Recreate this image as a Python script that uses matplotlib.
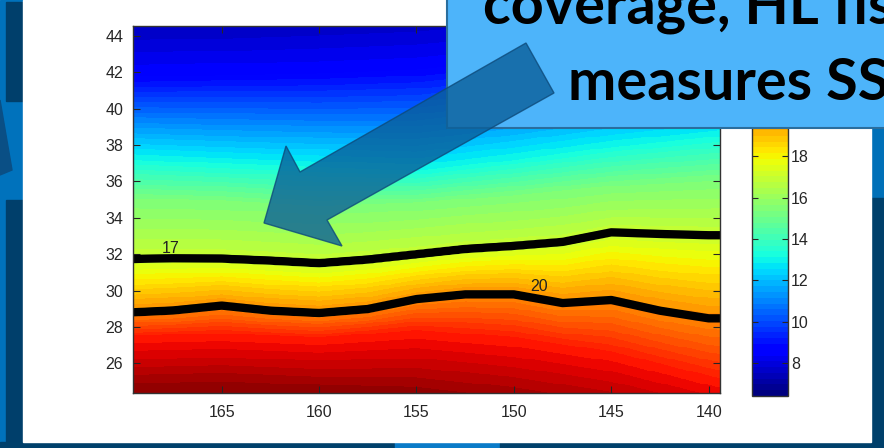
import numpy as np
import matplotlib
matplotlib.use('Agg')
import matplotlib.pyplot as plt
from matplotlib.patches import Rectangle, Polygon
from matplotlib.colors import Normalize

plt.rcParams['font.family'] = ['Liberation Sans', 'DejaVu Sans']

# 等温线位置：17 和 20 度两条黑线
lon_nodes = [169.5, 167.5, 165, 162.5, 160, 157.5, 155, 152.5, 150, 147.5, 145, 142.5, 140, 139.4]
lat_17 = [31.73, 31.77, 31.75, 31.64, 31.50, 31.70, 31.99, 32.28, 32.45, 32.67, 33.20, 33.11, 33.04, 33.04]
lat_20 = [28.80, 28.90, 29.17, 28.89, 28.76, 28.98, 29.53, 29.79, 29.79, 29.31, 29.48, 28.89, 28.47, 28.47]

# 其它颜色带的大致位置（粗网格）
lon_coarse = [169.5, 165, 160, 155, 150, 145, 139.4]
lat_7p5 = [44.5, 44.6, 44.8, 45.0, 45.4, 45.9, 46.3]
lat_8p6 = [41.8, 41.9, 42.0, 42.2, 42.7, 43.2, 43.6]
lat_11 = [39.4, 39.3, 39.2, 39.2, 39.8, 40.5, 41.0]
lat_13 = [37.2, 37.0, 36.8, 36.6, 37.2, 37.9, 38.5]
lat_15 = [35.0, 34.9, 34.6, 34.8, 35.2, 35.7, 36.0]
lat_22 = [27.5, 27.6, 27.4, 27.8, 27.4, 26.6, 25.1]
lat_24 = [24.5, 24.6, 24.4, 24.2, 23.6, 22.8, 21.5]

sst_levels = [7.5, 8.6, 11.0, 13.1, 15.4, 17.0, 20.0, 22.1, 24.0]
contour_levels = [17, 20]
xticks = [165, 160, 155, 150, 145, 140]
yticks = [26, 28, 30, 32, 34, 36, 38, 40, 42, 44]
# 20 以上的色标刻度被标注框挡住了
cbar_ticks = [8, 10, 12, 14, 16, 18]

callout_line1 = 'coverage, HL fishery'
callout_line2 = 'measures SST'

# 构造网格场：每一列按等温线纬度插值
lon_grid = np.linspace(139.4, 169.6, 400)
lat_grid = np.linspace(24.3, 44.6, 400)

def at_lon(lons, lats):
    return np.interp(lon_grid, lons[::-1], lats[::-1])

iso_lat = [
    at_lon(lon_coarse, lat_7p5),
    at_lon(lon_coarse, lat_8p6),
    at_lon(lon_coarse, lat_11),
    at_lon(lon_coarse, lat_13),
    at_lon(lon_coarse, lat_15),
    at_lon(lon_nodes, lat_17),
    at_lon(lon_nodes, lat_20),
    at_lon(lon_coarse, lat_22),
    at_lon(lon_coarse, lat_24),
]
iso_lat = np.array(iso_lat)
sst = np.zeros((len(lat_grid), len(lon_grid)))
for j in range(len(lon_grid)):
    sst[:, j] = np.interp(lat_grid, iso_lat[::-1, j], sst_levels[::-1])

W, H = 884, 448
fig = plt.figure(figsize=(W / 100, H / 100), dpi=100)

def px_axes(x0, y0, x1, y1, **kw):
    return fig.add_axes([x0 / W, 1 - y1 / H, (x1 - x0) / W, (y1 - y0) / H], **kw)

# 幻灯片背景
bg = px_axes(0, 0, W, H, zorder=0)
bg.set_xlim(0, W)
bg.set_ylim(H, 0)
bg.axis('off')
bg.add_patch(Rectangle((0, 0), W, H, color='#0072bc'))
bg.add_patch(Rectangle((6, 2), 17, 99, color='#003f6b'))
bg.add_patch(Rectangle((6, 200), 17, 248, color='#003f6b'))
bg.add_patch(Polygon([(0, 100), (12, 170), (0, 175)], color='#0a4f85'))
bg.add_patch(Rectangle((871, 0), 13, 198, color='#0070b8'))
bg.add_patch(Rectangle((871, 198), 13, 250, color='#00406b'))
bg.add_patch(Rectangle((0, 442), 395, 6, color='#00406b'))
bg.add_patch(Rectangle((395, 442), 105, 6, color='#0a7bc8'))
bg.add_patch(Rectangle((500, 442), 384, 6, color='#00406b'))
bg.add_patch(Rectangle((23, 0), 848, 442, color='white'))

# 主图
cmap = plt.get_cmap('jet', 64)
norm = Normalize(vmin=6.4, vmax=24.3)
ax = px_axes(133, 26, 720, 392.7, zorder=1)
mesh = ax.pcolormesh(lon_grid, lat_grid, sst, cmap=cmap, norm=norm, shading='nearest')
ax.contour(lon_grid, lat_grid, sst, levels=contour_levels, colors='k', linewidths=6)
ax.text(167.6, 31.9, '17', fontsize=11.5, color='#222222', ha='center', va='bottom')
ax.text(148.7, 29.8, '20', fontsize=11.5, color='#222222', ha='center', va='bottom')
ax.set_xlim(169.55, 139.42)
ax.set_ylim(24.38, 44.55)
ax.set_xticks(xticks)
ax.set_yticks(yticks)
ax.tick_params(direction='in', top=True, right=True, length=5, labelsize=11.5,
               labelcolor='#262626', color='#262626', pad=7)
ax.tick_params(axis='x', pad=9)
for s in ax.spines.values():
    s.set_color('#333333')
    s.set_linewidth(1)

# 色标
cax = px_axes(752, 26, 788, 396, zorder=1)
cb = fig.colorbar(mesh, cax=cax)
cb.set_ticks(cbar_ticks)
cax.tick_params(direction='in', left=True, right=True, length=4, labelsize=11.5,
                labelcolor='#262626', color='#262626', pad=2)
cb.outline.set_edgecolor('#333333')
cb.outline.set_linewidth(1)

# 覆盖层：标注框和箭头
ov = px_axes(0, 0, W, H, zorder=5)
ov.set_xlim(0, W)
ov.set_ylim(H, 0)
ov.axis('off')
ov.patch.set_alpha(0)
ov.add_patch(Rectangle((447, -10), 460, 138, facecolor='#4db4fa', edgecolor='#2a6e9e', lw=1.5))
arrow_pts = [(264, 223), (286, 146), (300, 172), (526, 43), (554, 93), (327, 220), (342, 246)]
ov.add_patch(Polygon(arrow_pts, closed=True, facecolor='#0b5f9a', edgecolor='#0d4a7a',
                     lw=1, alpha=0.8))
ov.text(483, 24, callout_line1, fontsize=41.5, fontweight='bold', family=['Lato', 'DejaVu Sans'],
        ha='left', va='baseline', color='black')
ov.text(568, 100, callout_line2, fontsize=41.5, fontweight='bold', family=['Lato', 'DejaVu Sans'],
        ha='left', va='baseline', color='black')

plt.savefig('out.png', dpi=100)
